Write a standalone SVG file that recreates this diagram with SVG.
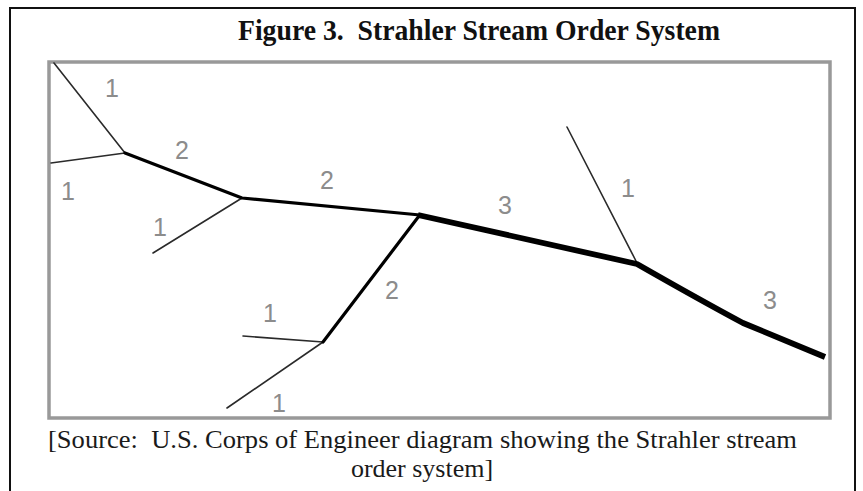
<svg xmlns="http://www.w3.org/2000/svg" width="863" height="491" viewBox="0 0 863 491">
  <style>
    .o1 { fill: none; stroke: #2a2a2a; stroke-width: 1.6; stroke-linecap: round; }
    .o2 { fill: none; stroke: #000; stroke-width: 3.2; stroke-linecap: round; stroke-linejoin: round; }
    .o3 { fill: none; stroke: #000; stroke-width: 5.8; stroke-linecap: butt; stroke-linejoin: round; }
    .lbl { font-family: "Liberation Sans", Arial, sans-serif; font-size: 25px; fill: #8c8c8c; text-anchor: middle; }
    .title { font-family: "Liberation Serif", "Times New Roman", serif; font-size: 30px; font-weight: bold; fill: #111; }
    .src { font-family: "Liberation Serif", "Times New Roman", serif; font-size: 26px; fill: #1a1a1a; }
  </style>
  <rect width="863" height="491" fill="#fff"/>
  <path id="outer-frame" d="M10,491 V8 H855 V491" fill="none" stroke="#111" stroke-width="2"/>
  <text class="title" x="238" y="40" textLength="482" lengthAdjust="spacingAndGlyphs" xml:space="preserve">Figure 3.  Strahler Stream Order System</text>
  <rect id="map-frame" x="49" y="62" width="781" height="356" fill="#fff" stroke="#999" stroke-width="3.5"/>

  <g id="streams">
    <g id="order1">
      <line class="o1" x1="54" y1="63" x2="125" y2="153"/>
      <line class="o1" x1="51" y1="163" x2="125" y2="153"/>
      <line class="o1" x1="153" y1="253" x2="242" y2="198"/>
      <line class="o1" x1="243" y1="336" x2="323" y2="342"/>
      <line class="o1" x1="227" y1="408" x2="323" y2="342"/>
      <line class="o1" x1="567" y1="127" x2="636" y2="261"/>
    </g>
    <g id="order2">
      <polyline class="o2" points="125,153 242,198 420,215"/>
      <line class="o2" x1="419" y1="216" x2="323" y2="342"/>
    </g>
    <g id="order3">
      <path class="o3" d="M418,215 L637,264 Q700,300 743,323 L825,357"/>
    </g>
  </g>

  <g id="labels">
    <text class="lbl" x="112" y="97">1</text>
    <text class="lbl" x="182" y="159">2</text>
    <text class="lbl" x="68" y="200">1</text>
    <text class="lbl" x="160" y="236">1</text>
    <text class="lbl" x="327" y="189">2</text>
    <text class="lbl" x="392" y="299">2</text>
    <text class="lbl" x="270" y="322">1</text>
    <text class="lbl" x="279" y="412">1</text>
    <text class="lbl" x="505" y="214">3</text>
    <text class="lbl" x="628" y="197">1</text>
    <text class="lbl" x="770" y="309">3</text>
  </g>

  <text class="src" x="48" y="448" textLength="749" lengthAdjust="spacingAndGlyphs" xml:space="preserve">[Source:  U.S. Corps of Engineer diagram showing the Strahler stream</text>
  <text class="src" x="422" y="477" text-anchor="middle">order system]</text>
</svg>
